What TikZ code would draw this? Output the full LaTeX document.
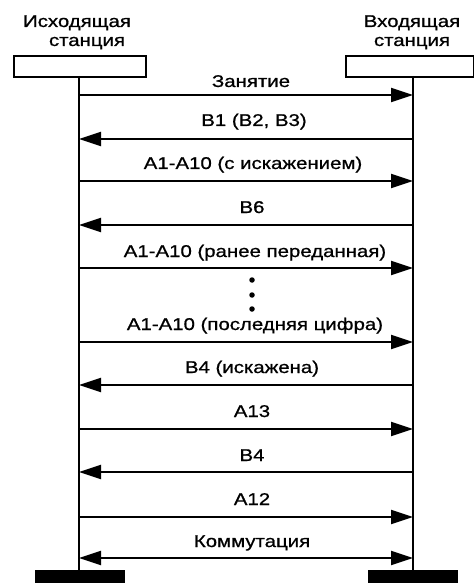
\documentclass[tikz,border=0pt]{standalone}
\usepackage{fontspec}
\setmainfont[FakeStretch=1.2,FakeBold=0.9]{Liberation Sans}
\usetikzlibrary{arrows.meta}
\tikzset{
  lbl/.style={font=\fontsize{17}{20}\selectfont, inner sep=0pt, anchor=base},
  tipA/.tip={Triangle[length=22pt,width=14pt]},
  msg/.style={line width=2pt, -tipA},
  msgboth/.style={line width=2pt, tipA-tipA},
  lifeline/.style={line width=2.2pt},
  stationbox/.style={draw, line width=2.2pt, fill=white},
  basebar/.style={fill=black, draw=none},
  dotmark/.style={circle, fill=black, inner sep=0pt, minimum size=5.5pt}
}
\begin{document}
\begin{tikzpicture}[x=1pt,y=-1pt]
\useasboundingbox (0,0) rectangle (473,585);
% headers
\node[lbl] (hL1) at (77,27) {Исходящая};
\node[lbl] (hL2) at (87,46) {станция};
\node[lbl] (hR1) at (412,27) {Входящая};
\node[lbl] (hR2) at (412,46) {станция};
% station boxes
\node[stationbox, minimum width=132pt, minimum height=21pt, anchor=north west] (boxL) at (13,55) {};
\node[stationbox, minimum width=128pt, minimum height=21pt, anchor=north west] (boxR) at (345,55) {};
% bottom bars
\node[basebar, minimum width=90pt, minimum height=13pt, anchor=north west] (barL) at (35,570) {};
\node[basebar, minimum width=90pt, minimum height=13pt, anchor=north west] (barR) at (368,570) {};
% lifelines
\coordinate (topL) at (79,76);
\coordinate (topR) at (413,76);
\coordinate (botL) at (79,570);
\coordinate (botR) at (413,570);
\draw[lifeline] (topL) -- (botL);
\draw[lifeline] (topR) -- (botR);
% message points
\foreach \i/\y in {1/95,2/139,3/181,4/225,5/268,6/342,7/385,8/429,9/472,10/517,11/558}{
  \coordinate (L\i) at (79,\y);
  \coordinate (R\i) at (413,\y);
}
\draw[msg] (L1) -- (R1);
\draw[msg] (R2) -- (L2);
\draw[msg] (L3) -- (R3);
\draw[msg] (R4) -- (L4);
\draw[msg] (L5) -- (R5);
\draw[msg] (L6) -- (R6);
\draw[msg] (R7) -- (L7);
\draw[msg] (L8) -- (R8);
\draw[msg] (R9) -- (L9);
\draw[msg] (L10) -- (R10);
\draw[msgboth] (L11) -- (R11);
% labels
\node[lbl] (m1) at (251,87) {Занятие};
\node[lbl] (m2) at (254,126) {B1 (B2, B3)};
\node[lbl] (m3) at (253,169) {A1-A10 (с искажением)};
\node[lbl] (m4) at (252,213) {B6};
\node[lbl] (m5) at (255,257) {A1-A10 (ранее переданная)};
\node[lbl] (m6) at (255,330) {A1-A10 (последняя цифра)};
\node[lbl] (m7) at (252,373) {B4 (искажена)};
\node[lbl] (m8) at (252,417) {A13};
\node[lbl] (m9) at (252,461) {B4};
\node[lbl] (m10) at (252,505) {A12};
\node[lbl] (m11) at (252,547) {Коммутация};
% dots
\node[dotmark] (d1) at (252,280) {};
\node[dotmark] (d2) at (252,295) {};
\node[dotmark] (d3) at (252,309) {};
\end{tikzpicture}
\end{document}
